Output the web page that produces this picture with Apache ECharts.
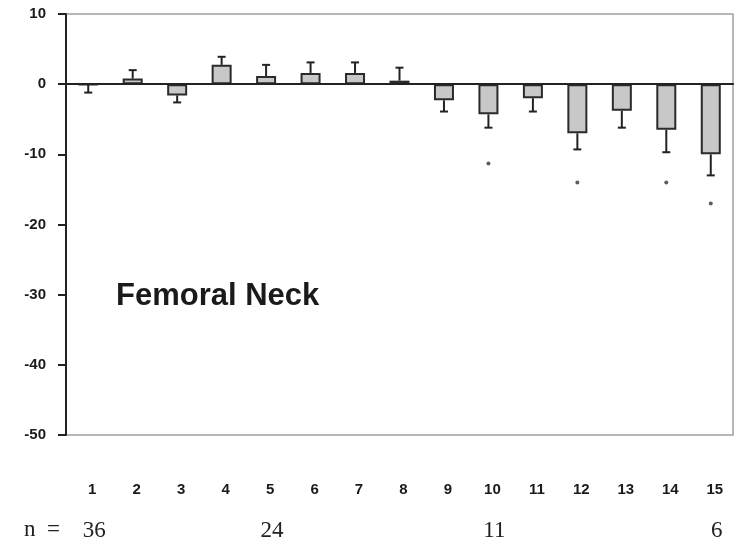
<!DOCTYPE html>
<html>
<head>
<meta charset="utf-8">
<script src="https://cdn.jsdelivr.net/npm/echarts@6/dist/echarts.min.js"></script>
<style>html,body{margin:0;padding:0;background:#fff}#c{width:734px;height:543px}</style>
</head>
<body>
<div id="c"></div>
<script>
var categories = ['1','2','3','4','5','6','7','8','9','10','11','12','13','14','15'];
var nLabels = ['36','','','','24','','','','','11','','','','','6'];
var values = [-0.1, 0.8, -1.6, 2.75, 1.15, 1.6, 1.6, 0.5, -2.3, -4.3, -2.0, -7.0, -3.8, -6.5, -10.0];
var errors = [1.1, 1.2, 1.0, 1.15, 1.6, 1.5, 1.5, 1.85, 1.6, 1.9, 1.9, 2.3, 2.4, 3.2, 3.0];
var starCats = ['10','12','14','15'];
var starValues = [-11.3, -14.0, -14.0, -17.0];
var yTicks = [-50, -40, -30, -20, -10, 0, 10];

var chart = echarts.init(document.getElementById('c'), null, {renderer:'canvas'});
var errData = values.map(function(v,i){ return [i, v, v >= 0 ? v + errors[i] : v - errors[i]]; });
var starData = starCats.map(function(c,i){ return [c, starValues[i]]; });
var labFont = {fontFamily:'Liberation Sans, Arial, sans-serif', fontWeight:'bold', color:'#1a1a1a', fontSize:15};

chart.setOption({
  animation:false,
  backgroundColor:'#fff',
  grid:{left:66, right:1, top:14, bottom:108, show:true, borderColor:'#a0a0a0', borderWidth:1.5, backgroundColor:'transparent'},
  xAxis:[
    {type:'category', data:categories, boundaryGap:true, axisLine:{onZero:true, lineStyle:{color:'#222', width:2}}, axisTick:{show:false}, axisLabel:{show:false}, splitLine:{show:false}, z:3},
    {type:'category', data:categories, position:'bottom', axisLine:{show:false, onZero:false}, axisTick:{show:false}, axisLabel:Object.assign({margin:47, interval:0, padding:[0,0,0,8]}, labFont)},
    {type:'category', data:nLabels, position:'bottom', axisLine:{show:false, onZero:false}, axisTick:{show:false}, axisLabel:{margin:84, interval:0, padding:[0,0,0,12], fontFamily:'Liberation Serif, Times New Roman, serif', fontSize:23, color:'#222'}}
  ],
  yAxis:{type:'value', min:yTicks[0], max:yTicks[yTicks.length-1], interval:10,
    axisLine:{show:true, lineStyle:{color:'#222', width:2}},
    axisTick:{show:true, length:8, lineStyle:{color:'#222', width:2}},
    axisLabel:Object.assign({margin:20}, labFont),
    splitLine:{show:false}},
  series:[
    {type:'bar', xAxisIndex:0, data:values, barWidth:20,
      itemStyle:{color:'#c8c8c8', borderColor:'#2a2a2a', borderWidth:2}, z:2},
    {type:'custom', xAxisIndex:0, data:errData, z:4,
      renderItem:function(params, api){
        var a = api.coord([api.value(0), api.value(1)]);
        var b = api.coord([api.value(0), api.value(2)]);
        var s = {stroke:'#222', lineWidth:2};
        return {type:'group', children:[
          {type:'line', shape:{x1:a[0], y1:a[1], x2:b[0], y2:b[1]}, style:s},
          {type:'line', shape:{x1:b[0]-4, y1:b[1], x2:b[0]+4, y2:b[1]}, style:s}
        ]};
      }},
    {type:'scatter', xAxisIndex:0, data:starData, symbol:'circle', symbolSize:4,
      itemStyle:{color:'#333'}, z:5}
  ],
  graphic:[
    {type:'text', left:116, top:281, style:{text:'Femoral Neck', font:'bold 31px "Liberation Sans", Arial, sans-serif', fill:'#1a1a1a'}},
    {type:'text', left:24, top:518, style:{text:'n  =', font:'23px "Liberation Serif", "Times New Roman", serif', fill:'#222'}}
  ]
});
</script>
</body>
</html>
